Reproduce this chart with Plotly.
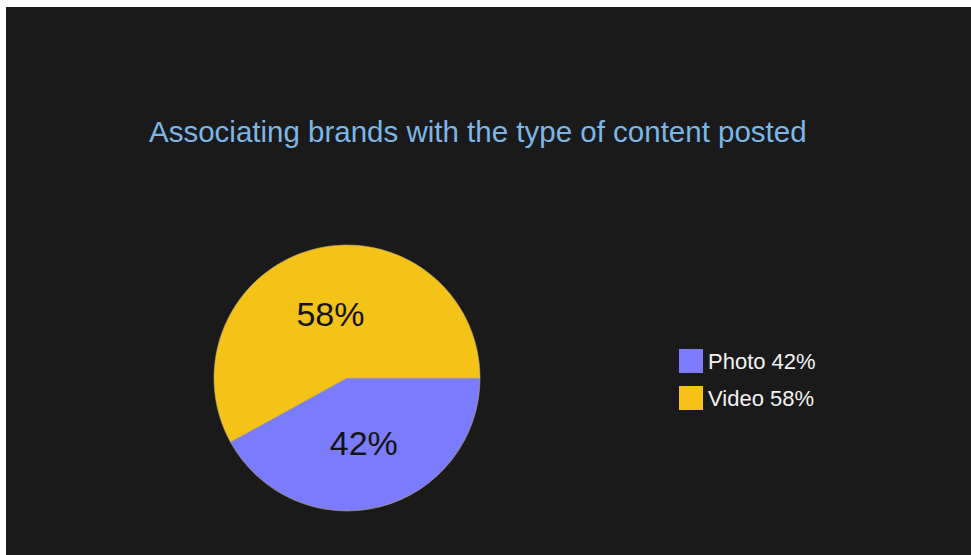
import plotly.graph_objects as go

labels = ["Photo", "Video"]
values = [42, 58]
colors = ["#7B7BFD", "#F5C218"]
title_text = "Associating brands with the type of content posted"

W, H = 971, 555
BG = "#1a1a1a"

fig = go.Figure()
fig.add_trace(go.Pie(
    labels=labels,
    values=values,
    sort=False,
    direction="clockwise",
    rotation=90,
    marker=dict(colors=colors, line=dict(color="#b8a878", width=0.6)),
    texttemplate="%{value}%",
    textposition="inside",
    insidetextorientation="horizontal",
    textfont=dict(family="Liberation Sans, Arial", size=34, color="#141414"),
    domain=dict(x=[214 / W, 480 / W], y=[1 - 511 / H, 1 - 245 / H]),
    showlegend=False,
    hoverinfo="label+percent",
))

shapes = [dict(type="rect", xref="paper", yref="paper",
               x0=6 / W, x1=1.0, y0=0.0, y1=1 - 7 / H,
               fillcolor=BG, line=dict(width=0), layer="below")]
annotations = [dict(text=title_text, xref="paper", yref="paper",
                    x=478 / W, y=1 - 131 / H, xanchor="center", yanchor="middle",
                    showarrow=False,
                    font=dict(family="Liberation Sans, Arial", size=29.5, color="#7DB6E6"))]

# custom legend built from the data arrays
leg_x0, leg_y0, sw, step = 679, 349, 24, 37
for i, (lab, val, col) in enumerate(zip(labels, values, colors)):
    top = leg_y0 + i * step
    shapes.append(dict(type="rect", xref="paper", yref="paper",
                       x0=leg_x0 / W, x1=(leg_x0 + sw) / W,
                       y0=1 - (top + sw) / H, y1=1 - top / H,
                       fillcolor=col, line=dict(width=0)))
    annotations.append(dict(text=f"{lab} {val}%", xref="paper", yref="paper",
                            x=(leg_x0 + sw + 3) / W, y=1 - (top + sw / 2) / H,
                            xanchor="left", yanchor="middle", showarrow=False,
                            font=dict(family="Liberation Sans, Arial", size=22, color="#f2f2f2")))

fig.update_layout(
    width=W, height=H,
    margin=dict(l=0, r=0, t=0, b=0),
    paper_bgcolor="white",
    plot_bgcolor="white",
    shapes=shapes,
    annotations=annotations,
)

fig.write_html("out.html")
